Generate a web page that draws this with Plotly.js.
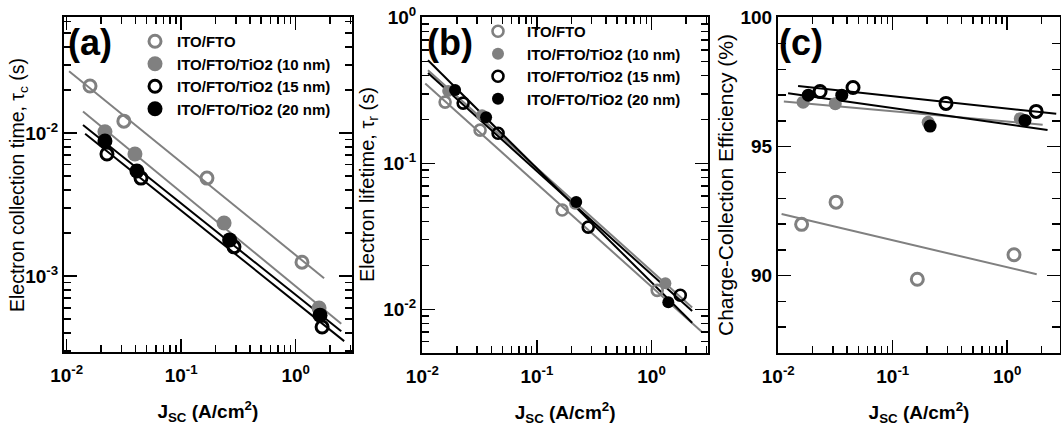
<!DOCTYPE html>
<html>
<head>
<meta charset="utf-8">
<script src="https://cdn.plot.ly/plotly-3.0.1.min.js"></script>
<style>html,body{margin:0;padding:0;background:#fff;}#chart{width:1061px;height:432px;}</style>
</head>
<body>
<div id="chart"></div>
<script>
// ---------------- data ----------------
const seriesNames = ['ITO/FTO', 'ITO/FTO/TiO2 (10 nm)', 'ITO/FTO/TiO2 (15 nm)', 'ITO/FTO/TiO2 (20 nm)'];

// (a) electron collection time tau_c (s) vs Jsc (A/cm2)
const jscA = [
  [0.0160, 0.0316, 0.168, 1.135],
  [0.0216, 0.0395, 0.237, 1.60],
  [0.0225, 0.0446, 0.289, 1.70],
  [0.0216, 0.0411, 0.265, 1.63]
];
const tauC = [
  [0.0213, 0.0121, 0.00484, 0.00125],
  [0.0102, 0.00713, 0.00235, 0.000597],
  [0.00713, 0.00484, 0.00160, 0.00044],
  [0.00879, 0.00542, 0.00179, 0.000533]
];
const fitRangeA = [[0.0105, 1.77], [0.0139, 2.5], [0.0145, 2.65], [0.0139, 2.5]];

// (b) electron lifetime tau_r (s) vs Jsc
const jscB = [
  [0.0158, 0.0319, 0.166, 1.12],
  [0.0168, 0.0332, 0.215, 1.32],
  [0.0227, 0.0458, 0.280, 1.78],
  [0.0193, 0.0360, 0.220, 1.40]
];
const tauR = [
  [0.263, 0.169, 0.0479, 0.0135],
  [0.313, 0.214, 0.053, 0.0151],
  [0.259, 0.161, 0.0366, 0.0125],
  [0.318, 0.207, 0.0543, 0.0112]
];
const fitRangeB = [[0.0106, 2.77], [0.0112, 2.26], [0.0112, 2.26], [0.0112, 2.26]];

// (c) charge-collection efficiency (%) vs Jsc
const jscC = [
  [0.0160, 0.0320, 0.164, 1.146],
  [0.0165, 0.0315, 0.204, 1.30],
  [0.0232, 0.0450, 0.292, 1.79],
  [0.0183, 0.0359, 0.212, 1.43]
];
const effC = [
  [91.99, 92.85, 89.86, 90.81],
  [96.73, 96.67, 95.95, 96.09],
  [97.14, 97.30, 96.68, 96.37],
  [97.00, 97.00, 95.80, 96.02]
];
const fitRangeC = [[0.0107, 1.81], [0.0112, 2.04], [0.0149, 2.68], [0.0122, 2.25]];

const logTickVals = [0.01, 0.1, 1];
const logTickText = ['10<sup>-2</sup>', '10<sup>-1</sup>', '10<sup>0</sup>'];
const yTickValsA = [0.001, 0.01];
const yTickTextA = ['10<sup>-3</sup>', '10<sup>-2</sup>'];
const yTickValsB = [0.01, 0.1, 1];
const yTickTextB = ['10<sup>-2</sup>', '10<sup>-1</sup>', '10<sup>0</sup>'];
const yTickValsC = [90, 95, 100];
const yTitles = ['Electron collection time, τ<sub>c</sub> (s)', 'Electron lifetime, τ<sub>r</sub> (s)', 'Charge-Collection Efficiency (%)'];
const panelLabels = ['(a)', '(b)', '(c)'];

// ---------------- styles ----------------
const GRAY = '#808080', BLACK = '#000000';
const FONT = 'Liberation Sans, Arial, Helvetica, sans-serif';
const seriesColor = [GRAY, GRAY, BLACK, BLACK];
const seriesOpen = [true, false, true, false];

function minorLogVals(d0, d1) {
  const v = [];
  for (let d = d0; d <= d1; d++) for (let m = 2; m <= 9; m++) v.push(m * Math.pow(10, d));
  return v;
}
const log10 = Math.log10;

// linear regression helper: y on x
function regress(xs, ys) {
  const n = xs.length;
  const mx = xs.reduce((a, b) => a + b, 0) / n, my = ys.reduce((a, b) => a + b, 0) / n;
  let sxy = 0, sxx = 0;
  for (let i = 0; i < n; i++) { sxy += (xs[i] - mx) * (ys[i] - my); sxx += (xs[i] - mx) ** 2; }
  const b = sxy / sxx;
  return {a: my - b * mx, b: b};
}

const traces = [];
function addPanel(jsc, yv, ranges, xa, ya, logY, legendName, sizes) {
  // fit lines
  for (let s = 0; s < 4; s++) {
    const lx = jsc[s].map(log10);
    const ly = logY ? yv[s].map(log10) : yv[s];
    const f = regress(lx, ly);
    const xs = ranges[s];
    const ys = xs.map(x => {
      const v = f.a + f.b * log10(x);
      return logY ? Math.pow(10, v) : v;
    });
    traces.push({
      x: xs, y: ys, xaxis: xa, yaxis: ya, mode: 'lines', showlegend: false, hoverinfo: 'skip',
      line: {color: seriesColor[s], width: 2}
    });
  }
  // markers
  for (let s = 0; s < 4; s++) {
    const open = seriesOpen[s];
    traces.push({
      x: jsc[s], y: yv[s], xaxis: xa, yaxis: ya, mode: 'markers', name: seriesNames[s],
      showlegend: !!legendName, legend: legendName || 'legend',
      marker: open
        ? {symbol: 'circle-open', size: sizes.open, color: seriesColor[s], line: {color: seriesColor[s], width: sizes.lw}}
        : {symbol: 'circle', size: sizes.fill, color: seriesColor[s], line: {width: 0}}
    });
  }
}
addPanel(jscA, tauC, fitRangeA, 'x', 'y', true, 'legend', {open: 12, lw: 3, fill: 15});
addPanel(jscB, tauR, fitRangeB, 'x2', 'y2', true, 'legend2', {open: 11, lw: 2.6, fill: 12});
addPanel(jscC, effC, fitRangeC, 'x3', 'y3', false, null, {open: 12, lw: 3, fill: 13});

const W = 1061, H = 432;
const px = v => v / W, py = v => 1 - v / H;

const tickFont = {family: FONT, size: 19, color: BLACK, weight: 'bold'};
const xTitle = {text: 'J<sub>SC</sub> (A/cm<sup>2</sup>)', font: {family: FONT, size: 19, color: BLACK, weight: 'bold'}, standoff: 20};
function axisBase(extra) {
  return Object.assign({
    showline: true, linecolor: BLACK, linewidth: 2, mirror: 'ticks',
    ticks: 'inside', ticklen: 13, tickwidth: 1.5, tickcolor: BLACK,
    showgrid: false, zeroline: false, tickfont: tickFont, automargin: false, fixedrange: true
  }, extra);
}
function xLog(domain, range, anchor) {
  return axisBase({
    type: 'log', domain: domain, range: range, anchor: anchor,
    tickmode: 'array', tickvals: logTickVals, ticktext: logTickText, ticklabelstandoff: 5,
    minor: {tickmode: 'array', tickvals: minorLogVals(-3, 0), ticks: 'inside', ticklen: 7, tickwidth: 1.5, tickcolor: BLACK, showgrid: false},
    title: xTitle
  });
}

// y-axis titles placed as rotated annotations for exact placement
const yTitleX = [19, 369, 726];
const yTitleSize = [19.5, 20, 21];
const panelLabelX = [66, 425, 777];
const annotations = [];
for (let i = 0; i < 3; i++) {
  annotations.push({text: yTitles[i], xref: 'paper', yref: 'paper', x: px(yTitleX[i]), y: py(185), xanchor: 'center', yanchor: 'middle', textangle: -90, showarrow: false, font: {family: FONT, size: yTitleSize[i], color: BLACK}});
  annotations.push({text: panelLabels[i], xref: 'paper', yref: 'paper', x: px(panelLabelX[i]), y: py(42.5), xanchor: 'left', yanchor: 'middle', showarrow: false, font: {family: FONT, size: 36, color: BLACK, weight: 'bold'}});
}

const layout = {
  width: W, height: H,
  margin: {l: 0, r: 0, t: 0, b: 0},
  paper_bgcolor: '#ffffff', plot_bgcolor: '#ffffff',
  font: {family: FONT, color: BLACK},
  showlegend: true,
  xaxis: xLog([px(64), px(351.7)], [-2.023, 0.489], 'y'),
  xaxis2: xLog([px(422), px(708.3)], [-2.003, 0.495], 'y2'),
  xaxis3: xLog([px(778), px(1060)], [-2.002, 0.461], 'y3'),
  yaxis: axisBase({
    type: 'log', domain: [py(352), py(17)], range: [-3.531, -1.189], anchor: 'x',
    tickmode: 'array', tickvals: yTickValsA, ticktext: yTickTextA,
    minor: {tickmode: 'array', tickvals: minorLogVals(-4, -1), ticks: 'inside', ticklen: 7, tickwidth: 1.5, tickcolor: BLACK, showgrid: false}
  }),
  yaxis2: axisBase({
    type: 'log', domain: [py(353), py(17.3)], range: [-2.299, 0.001], anchor: 'x2',
    tickmode: 'array', tickvals: yTickValsB, ticktext: yTickTextB,
    minor: {tickmode: 'array', tickvals: minorLogVals(-3, -1), ticks: 'inside', ticklen: 7, tickwidth: 1.5, tickcolor: BLACK, showgrid: false}
  }),
  yaxis3: axisBase({
    type: 'linear', domain: [py(353), py(17.3)], range: [87, 100.02], anchor: 'x3',
    tickmode: 'array', tickvals: yTickValsC,
    minor: {dtick: 1, ticks: 'inside', ticklen: 8, tickwidth: 1.5, tickcolor: BLACK, showgrid: false}
  }),
  legend: {
    x: px(133), y: py(25), xanchor: 'left', yanchor: 'top',
    bgcolor: 'rgba(0,0,0,0)', borderwidth: 0, itemwidth: 34,
    font: {family: FONT, size: 15, color: BLACK, weight: 'bold'}
  },
  legend2: {
    x: px(469), y: py(15), xanchor: 'left', yanchor: 'top',
    bgcolor: 'rgba(0,0,0,0)', borderwidth: 0, itemwidth: 48,
    font: {family: FONT, size: 15, color: BLACK, weight: 'bold'}
  },
  annotations: annotations
};

Plotly.newPlot('chart', traces, layout, {staticPlot: true, displayModeBar: false});
</script>
</body>
</html>
